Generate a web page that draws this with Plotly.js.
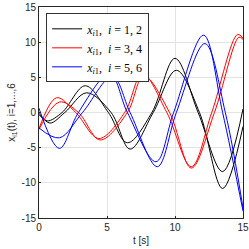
<!DOCTYPE html>
<html><head><meta charset="utf-8">
<script src="https://cdn.plot.ly/plotly-3.0.1.min.js"></script>
<style>html,body{margin:0;padding:0;background:#fff;}#plot{width:249px;height:249px;}</style>
</head><body><div id="plot"></div>
<script>
// Series 1,2 (black)
const t1 = [0, 0.6, 1.7, 3.4, 5.1, 6.5, 8.3, 10.0, 11.7, 13.5, 15];
const x1 = [-0.3, -1.2, 0, 3.8, 0, -4.3, 0, 7.7, 0, -8.4, 0.5];
const t2 = [0, 0.8, 1.9, 3.5, 5.3, 6.7, 8.4, 10.1, 11.8, 13.5, 15];
const x2 = [-0.1, -1.5, 0, 2.8, 0, -5.2, 0, 6.0, 0, -10.8, -2.0];
// Series 3,4 (red)
const t3 = [0, 1.3, 2.7, 4.4, 6.3, 7.6, 9.4, 11.2, 12.7, 14.6, 15];
const x3 = [-2.3, 2.1, 0, -3.7, 0, 5.5, 0, -7.7, 0, 11.1, 10.6];
const t4 = [0, 1.5, 2.9, 4.5, 6.5, 7.7, 9.6, 11.2, 12.9, 14.7, 15];
const x4 = [-2.4, 1.5, 0, -3.9, 0, 5.2, 0, -7.9, 0, 10.7, 10.4];
// Series 5,6 (blue)
const t5 = [0, 1.5, 2.9, 5.2, 6.5, 8.6, 9.9, 12.1, 13.5, 15];
const x5 = [0.6, -5.1, 0, 5.5, 0, -7.0, 0, 11.0, 0, -14.0];
const t6 = [0, 1.5, 3.2, 5.4, 6.7, 8.7, 10.1, 12.2, 13.7, 15];
const x6 = [-2.2, -3.6, 0, 5.1, 0, -7.7, 0, 9.8, 0, -13.6];

const names = [
  '<i>x</i><sub><i>i</i>1</sub>,  <i>i</i> = 1, 2',
  '<i>x</i><sub><i>i</i>1</sub>,  <i>i</i> = 3, 4',
  '<i>x</i><sub><i>i</i>1</sub>,  <i>i</i> = 5, 6'
];
const xTicks = [0, 5, 10, 15];
const yTicks = [-15, -10, -5, 0, 5, 10, 15];

function tr(t, x, color, g, show) {
  return {x: t, y: x, type: 'scatter', mode: 'lines',
    line: {color: color, width: 1, shape: 'spline', smoothing: 1},
    name: names[g], legendgroup: 'g' + g, showlegend: show};
}
const data = [
  tr(t1, x1, '#000000', 0, true), tr(t2, x2, '#000000', 0, false),
  tr(t3, x3, '#ff0000', 1, true), tr(t4, x4, '#ff0000', 1, false),
  tr(t5, x5, '#0000ff', 2, true), tr(t6, x6, '#0000ff', 2, false)
];
const axCommon = {
  showline: true, mirror: true, linecolor: '#262626', linewidth: 1,
  showgrid: true, gridcolor: '#e3e3e3', gridwidth: 1, zeroline: false,
  ticks: 'inside', ticklen: 2, tickcolor: '#262626',
  tickfont: {family: 'Liberation Sans, Arial, sans-serif', size: 10, color: '#262626'}
};
const layout = {
  width: 249, height: 249,
  margin: {l: 39, r: 6, t: 7, b: 31},
  paper_bgcolor: '#fff', plot_bgcolor: '#fff',
  showlegend: true,
  legend: {x: 0.035, y: 0.97, xanchor: 'left', yanchor: 'top',
    bgcolor: '#fff', bordercolor: '#333', borderwidth: 1,
    font: {family: 'Liberation Serif, DejaVu Serif, serif', size: 12, color: '#000'},
    tracegroupgap: 0, itemwidth: 30},
  xaxis: Object.assign({}, axCommon, {range: [0, 15], tickvals: xTicks, ticktext: xTicks.map(String),
    title: {text: 't [s]', standoff: 4, font: {family: 'Liberation Sans, Arial, sans-serif', size: 10, color: '#262626'}}}),
  yaxis: Object.assign({}, axCommon, {range: [-15, 15], tickvals: yTicks, ticktext: yTicks.map(String),
    title: {text: 'x<sub>i1</sub>(t), i=1,...,6', standoff: 4, font: {family: 'Liberation Sans, Arial, sans-serif', size: 10, color: '#262626'}}})
};
Plotly.newPlot('plot', data, layout, {staticPlot: true, displayModeBar: false});
</script></body></html>
